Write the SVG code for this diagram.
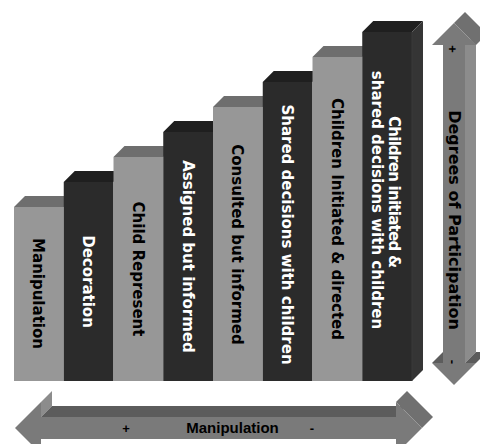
<svg xmlns="http://www.w3.org/2000/svg" width="480" height="444" viewBox="0 0 480 444">
<style>
.lf{fill:#979797}
.lt{fill:#6e6e6e}
.df{fill:#2b2b2b}
.dt{fill:#1f1f1f}
.ds{fill:#353535}
.lbl{font-family:"DejaVu Sans","Verdana",sans-serif;font-weight:bold;font-size:15px;text-anchor:middle}
.bk{fill:#000}
.wh{fill:#fff}
.af{fill:#7a7a7a}
.at{fill:#5c5c5c}
.as{fill:#8c8c8c}
.ah{fill:#707070}
.al{font-family:"Liberation Sans",Arial,sans-serif;font-weight:bold;font-size:15px;text-anchor:middle;fill:#000}
</style>
<rect width="480" height="444" fill="#fff"/>
<g id="bar-manipulation">
<polygon class="lt" points="14,207 25,196 74.75,196 63.75,207"/>
<rect class="lf" x="14" y="207" width="49.75" height="174"/>
<text class="lbl bk" transform="translate(33.4,293.5) rotate(90)">Manipulation</text>
</g>
<g id="bar-decoration">
<polygon class="dt" points="63.75,182 74.75,171 124.5,171 113.5,182"/>
<rect class="df" x="63.75" y="182" width="49.75" height="199"/>
<text class="lbl wh" transform="translate(83.1,281.5) rotate(90)">Decoration</text>
</g>
<g id="bar-child-represent">
<polygon class="lt" points="113.5,157 124.5,146 174.25,146 163.25,157"/>
<rect class="lf" x="113.5" y="157" width="49.75" height="224"/>
<text class="lbl bk" transform="translate(132.9,269) rotate(90)">Child Represent</text>
</g>
<g id="bar-assigned">
<polygon class="dt" points="163.25,132 174.25,121 224,121 213,132"/>
<rect class="df" x="163.25" y="132" width="49.75" height="249"/>
<text class="lbl wh" transform="translate(182.6,256.5) rotate(90)">Assigned but informed</text>
</g>
<g id="bar-consulted">
<polygon class="lt" points="213,107 224,96 273.75,96 262.75,107"/>
<rect class="lf" x="213" y="107" width="49.75" height="274"/>
<text class="lbl bk" transform="translate(232.4,244.5) rotate(90)">Consulted but informed</text>
</g>
<g id="bar-shared">
<polygon class="dt" points="262.75,82 273.75,71 323.5,71 312.5,82"/>
<rect class="df" x="262.75" y="82" width="49.75" height="299"/>
<text class="lbl wh" transform="translate(282.1,234.5) rotate(90)">Shared decisions with children</text>
</g>
<g id="bar-children-initiated">
<polygon class="lt" points="312.5,57 323.5,46 373.25,46 362.25,57"/>
<rect class="lf" x="312.5" y="57" width="49.75" height="324"/>
<text class="lbl bk" transform="translate(331.9,219) rotate(90)">Children Initiated &amp; directed</text>
</g>
<g id="bar-children-shared">
<polygon class="dt" points="362.25,32 373.25,21 423,21 412,32"/>
<polygon class="ds" points="412,32 423,21 423,370 412,381"/>
<rect class="df" x="362.25" y="32" width="49.75" height="349"/>
<line x1="412" y1="32" x2="412" y2="381" stroke="#3c3c3c" stroke-width="0.8"/>
<text class="lbl wh" transform="translate(389,192) rotate(90)" textLength="152" lengthAdjust="spacing">Children initiated &amp;</text>
<text class="lbl wh" transform="translate(372,200) rotate(90)">shared decisions with children</text>
</g>
<g id="connectors">
<g id="arrow-participation">
<polygon class="as" points="465,45 476,34 476,352 465,363"/>
<polygon class="ah" points="454,23 465,12 487,34 476,45"/>
<polygon class="at" points="432,363 443,352 454,352 443,363"/>
<polygon class="at" points="465,363 476,352 487,352 476,363"/>
<polygon class="af" points="454,23 476,45 465,45 465,363 476,363 454,385 432,363 443,363 443,45 432,45"/>
<polygon class="af" points="432,45 443,34 465,12 454,23"/>
<text class="al" transform="translate(448.5,220) rotate(90)" style="font-family:'DejaVu Sans',Verdana,sans-serif;font-size:16px">Degrees of Participation</text>
<text class="al" transform="translate(448,49) rotate(90)" style="font-size:13px">+</text>
<text class="al" transform="translate(448,362) rotate(90)" style="font-size:13px">-</text>
</g>
<g id="arrow-manipulation">
<polygon class="as" points="41,402 52,391 52,406 41,417"/>
<polygon class="at" points="41,417 52,406 407,406 396,417"/>
<polygon class="ah" points="396,402 407,391 433,417 422,428"/>
<polygon class="af" points="15,428 41,402 41,417 396,417 396,402 422,428 396,454 396,439 41,439 41,454"/>
<polygon class="af" points="15,428 26,417 52,391 41,402"/>
<text class="al" x="232.5" y="433">Manipulation</text>
<text class="al" x="126" y="433" style="font-size:13px">+</text>
<text class="al" x="312" y="433" style="font-size:13px">-</text>
</g>
</g>
</svg>
